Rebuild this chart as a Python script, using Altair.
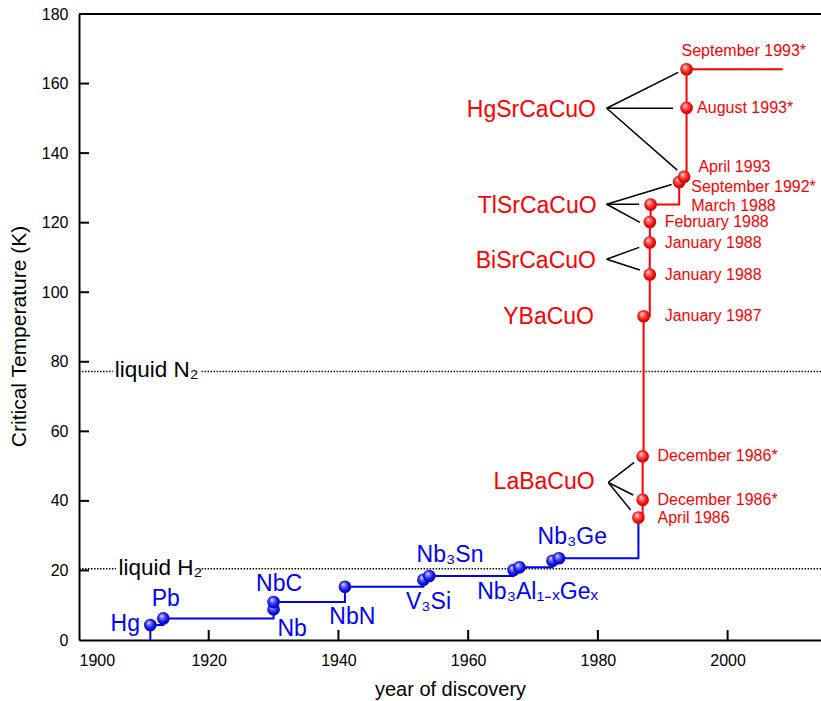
import altair as alt
import pandas as pd

FONT = "Liberation Sans"
RED = "#FF0000"
BLUE = "#0000FF"

# ---------------- data ----------------
# conventional (blue) superconductors, step envelope
blue_year = [1911.0, 1911.0, 1913.0, 1930.0, 1930.0, 1941.0, 1953.1, 1954.0, 1967.0, 1967.9, 1973.0, 1974.0, 1986.25]
blue_tc = [0.0, 4.3, 6.2, 8.8, 10.9, 15.3, 17.3, 18.4, 20.1, 20.9, 22.8, 23.5, 35.2]
blue_marker = [False, True, True, True, True, True, True, True, True, True, True, True, False]

# cuprates (red), step envelope
red_year = [1986.25, 1986.9, 1986.9, 1987.05, 1988.0, 1988.0, 1988.02, 1988.13, 1992.54, 1993.3, 1993.67, 1993.67, 2008.5]
red_tc = [35.2, 40.3, 52.8, 93.1, 105.1, 114.3, 120.2, 125.2, 131.7, 133.2, 153.0, 164.1, 164.1]
red_marker = [True, True, True, True, True, True, True, True, True, True, True, True, False]

# date labels of cuprates
date_text = ["September 1993*", "August 1993*", "April 1993", "September 1992*", "March 1988",
             "February 1988", "January 1988", "January 1988", "January 1987",
             "December 1986*", "December 1986*", "April 1986"]
date_year = [1992.9, 1995.3, 1995.5, 1994.4, 1994.4, 1990.3, 1990.3, 1990.3, 1990.3, 1989.2, 1989.2, 1989.2]
date_tc = [167.9, 151.6, 134.5, 128.9, 123.4, 118.7, 112.8, 103.5, 91.7, 51.6, 38.8, 33.7]

# family labels
fam_text = ["HgSrCaCuO", "TlSrCaCuO", "BiSrCaCuO", "YBaCuO", "LaBaCuO"]
fam_year = [1979.7, 1979.8, 1979.7, 1979.4, 1979.5]
fam_tc = [150.5, 122.9, 107.0, 90.8, 43.3]

# connector lines (family label -> markers)
con_x1 = [1981.35, 1981.35, 1981.35, 1981.35, 1981.35, 1981.35, 1981.35, 1981.35, 1981.6, 1981.6, 1981.6]
con_y1 = [152.9, 152.9, 152.9, 125.3, 125.3, 125.3, 109.5, 109.5, 45.3, 45.3, 45.3]
con_x2 = [1992.38, 1991.61, 1992.23, 1991.37, 1986.37, 1986.48, 1986.37, 1986.48, 1985.6, 1985.45, 1985.05]
con_y2 = [163.2, 152.9, 135.1, 131.0, 125.3, 120.1, 112.9, 106.4, 51.1, 41.7, 37.4]

# blue labels
bl_text = ["Hg", "Pb", "NbC", "Nb", "NbN", "Nb\u2083Sn", "V\u2083Si", "Nb\u2083Al\u2081\u208b\u2093Ge\u2093", "Nb\u2083Ge"]
bl_year = [1909.4, 1911.2, 1927.3, 1930.6, 1938.6, 1952.05, 1950.4, 1961.4, 1970.7]
bl_tc = [2.7, 9.8, 14.1, 1.15, 4.6, 22.5, 8.8, 11.7, 27.6]
bl_align = ["right", "left", "left", "left", "left", "left", "left", "left", "left"]

# reference temperatures
liq_text = ["liquid N\u2082", "liquid H\u2082"]
liq_year = [1905.5, 1906.1]
liq_label_tc = [75.7, 18.7]
liq_tc = [77.2, 20.5]
liq_gap_start = [1905.2, 1905.7]
liq_gap_end = [1918.9, 1918.9]

X_MIN, X_MAX = 1900, 2014.4
Y_MIN, Y_MAX = 0, 180
x_ticks = [1900, 1920, 1940, 1960, 1980, 2000]
y_ticks = [0, 20, 40, 60, 80, 100, 120, 140, 160, 180]

# ---------------- tables ----------------
blue_df = pd.DataFrame({"year": blue_year, "tc": blue_tc, "marker": blue_marker,
                        "i": list(range(len(blue_year)))})
red_df = pd.DataFrame({"year": red_year, "tc": red_tc, "marker": red_marker,
                       "i": list(range(len(red_year)))})
date_df = pd.DataFrame({"text": date_text, "year": date_year, "tc": date_tc})
fam_df = pd.DataFrame({"text": fam_text, "year": fam_year, "tc": fam_tc})
con_df = pd.DataFrame({"x1": con_x1, "y1": con_y1, "x2": con_x2, "y2": con_y2})
bl_df = pd.DataFrame({"text": bl_text, "year": bl_year, "tc": bl_tc, "align": bl_align})
liq_lab_df = pd.DataFrame({"text": liq_text, "year": liq_year, "tc": liq_label_tc})
seg_rows = []
for t, a, b in zip(liq_tc, liq_gap_start, liq_gap_end):
    seg_rows.append({"x1": X_MIN, "x2": a, "tc": t})
    seg_rows.append({"x1": b, "x2": X_MAX, "tc": t})
liq_seg_df = pd.DataFrame(seg_rows)
xt_df = pd.DataFrame({"year": [v for v in x_ticks if v > X_MIN]})
yt_df = pd.DataFrame({"tc": [v for v in y_ticks if Y_MIN < v < Y_MAX]})

xs = alt.Scale(domain=[X_MIN, X_MAX], nice=False, zero=False)
ys = alt.Scale(domain=[Y_MIN, Y_MAX], nice=False, zero=False)

W, H = 742, 626

x_axis = alt.Axis(values=x_ticks, format="d", grid=False, ticks=False, tickSize=0,
                  labelPadding=12, labelFontSize=16, labelFont=FONT, labelColor="black",
                  domainColor="black", domainWidth=2,
                  title="year of discovery", titleFont=FONT, titleFontSize=20,
                  titleFontWeight="normal", titleColor="black",
                  titleY=55, titleBaseline="alphabetic")
y_axis = alt.Axis(values=y_ticks, grid=False, ticks=False, tickSize=0,
                  labelPadding=11, labelFontSize=16, labelFont=FONT, labelColor="black",
                  domainColor="black", domainWidth=2,
                  title="Critical Temperature (K)", titleFont=FONT, titleFontSize=21,
                  titleFontWeight="normal", titleColor="black",
                  titleX=-60, titleY=322, titleAngle=270, titleBaseline="middle",
                  titleAlign="center")


def sphere(main, light, dark):
    return {"gradient": "radial", "x1": 0.36, "y1": 0.3, "r1": 0.0,
            "x2": 0.5, "y2": 0.5, "r2": 0.62,
            "stops": [{"offset": 0.0, "color": "#ffffff"},
                      {"offset": 0.22, "color": light},
                      {"offset": 0.6, "color": main},
                      {"offset": 1.0, "color": dark}]}


# dotted reference lines
liq_lines = alt.Chart(liq_seg_df).mark_rule(color="black", strokeWidth=1.6, strokeDash=[1.5, 1.5]).encode(
    x=alt.X("x1:Q", scale=xs, axis=x_axis), x2="x2:Q",
    y=alt.Y("tc:Q", scale=ys, axis=y_axis))
liq_labels = alt.Chart(liq_lab_df).mark_text(align="left", baseline="alphabetic", fontSize=22.5,
                                             font=FONT, color="black").encode(
    x=alt.X("year:Q", scale=xs), y=alt.Y("tc:Q", scale=ys), text="text:N")

blue_line = alt.Chart(blue_df).mark_line(color=BLUE, strokeWidth=2, interpolate="step-after").encode(
    x=alt.X("year:Q", scale=xs), y=alt.Y("tc:Q", scale=ys), order="i:Q")
red_line = alt.Chart(red_df).mark_line(color=RED, strokeWidth=2, interpolate="step-after").encode(
    x=alt.X("year:Q", scale=xs), y=alt.Y("tc:Q", scale=ys), order="i:Q")

connectors = alt.Chart(con_df).mark_rule(color="black", strokeWidth=1.5).encode(
    x=alt.X("x1:Q", scale=xs), y=alt.Y("y1:Q", scale=ys), x2="x2:Q", y2="y2:Q")

blue_pts = alt.Chart(blue_df).transform_filter("datum.marker").mark_circle(
    size=160, opacity=1, fill=sphere("#1010ff", "#8080ff", "#00006a"), strokeWidth=0).encode(
    x=alt.X("year:Q", scale=xs), y=alt.Y("tc:Q", scale=ys))
red_pts = alt.Chart(red_df).transform_filter("datum.marker").mark_circle(
    size=160, opacity=1, fill=sphere("#ff1010", "#ff8080", "#8a0000"), strokeWidth=0).encode(
    x=alt.X("year:Q", scale=xs), y=alt.Y("tc:Q", scale=ys))

date_labels = alt.Chart(date_df).mark_text(align="left", baseline="alphabetic", fontSize=16,
                                           font=FONT, color=RED).encode(
    x=alt.X("year:Q", scale=xs), y=alt.Y("tc:Q", scale=ys), text="text:N")
fam_labels = alt.Chart(fam_df).mark_text(align="right", baseline="alphabetic", fontSize=23,
                                         font=FONT, color=RED).encode(
    x=alt.X("year:Q", scale=xs), y=alt.Y("tc:Q", scale=ys), text="text:N")

bl_left = alt.Chart(bl_df).transform_filter("datum.align == 'left'").mark_text(
    align="left", baseline="alphabetic", fontSize=23, font=FONT, color=BLUE).encode(
    x=alt.X("year:Q", scale=xs), y=alt.Y("tc:Q", scale=ys), text="text:N")
bl_right = alt.Chart(bl_df).transform_filter("datum.align == 'right'").mark_text(
    align="right", baseline="alphabetic", fontSize=23, font=FONT, color=BLUE).encode(
    x=alt.X("year:Q", scale=xs), y=alt.Y("tc:Q", scale=ys), text="text:N")

# inward tick marks and top frame line
x_tick_marks = alt.Chart(xt_df).mark_rule(color="black", strokeWidth=2).encode(
    x=alt.X("year:Q", scale=xs), y=alt.value(H), y2=alt.value(H - 10))
y_tick_marks = alt.Chart(yt_df).mark_rule(color="black", strokeWidth=2).encode(
    y=alt.Y("tc:Q", scale=ys), x=alt.value(0), x2=alt.value(10))
top_frame = alt.Chart(pd.DataFrame({"a": [X_MIN], "b": [X_MAX], "t": [Y_MAX]})).mark_rule(
    color="black", strokeWidth=2).encode(
    x=alt.X("a:Q", scale=xs), x2="b:Q", y=alt.Y("t:Q", scale=ys))

chart = alt.layer(
    liq_lines, liq_labels, connectors, blue_line, red_line, blue_pts, red_pts,
    date_labels, fam_labels, bl_left, bl_right, x_tick_marks, y_tick_marks, top_frame
).properties(
    width=W, height=H,
    autosize=alt.AutoSizeParams(type="none"),
    padding={"left": 79, "top": 14, "right": 0, "bottom": 61},
).configure_view(stroke="transparent").configure(background="white")

chart.save("out.html", embed_options={"renderer": "svg", "actions": False})
